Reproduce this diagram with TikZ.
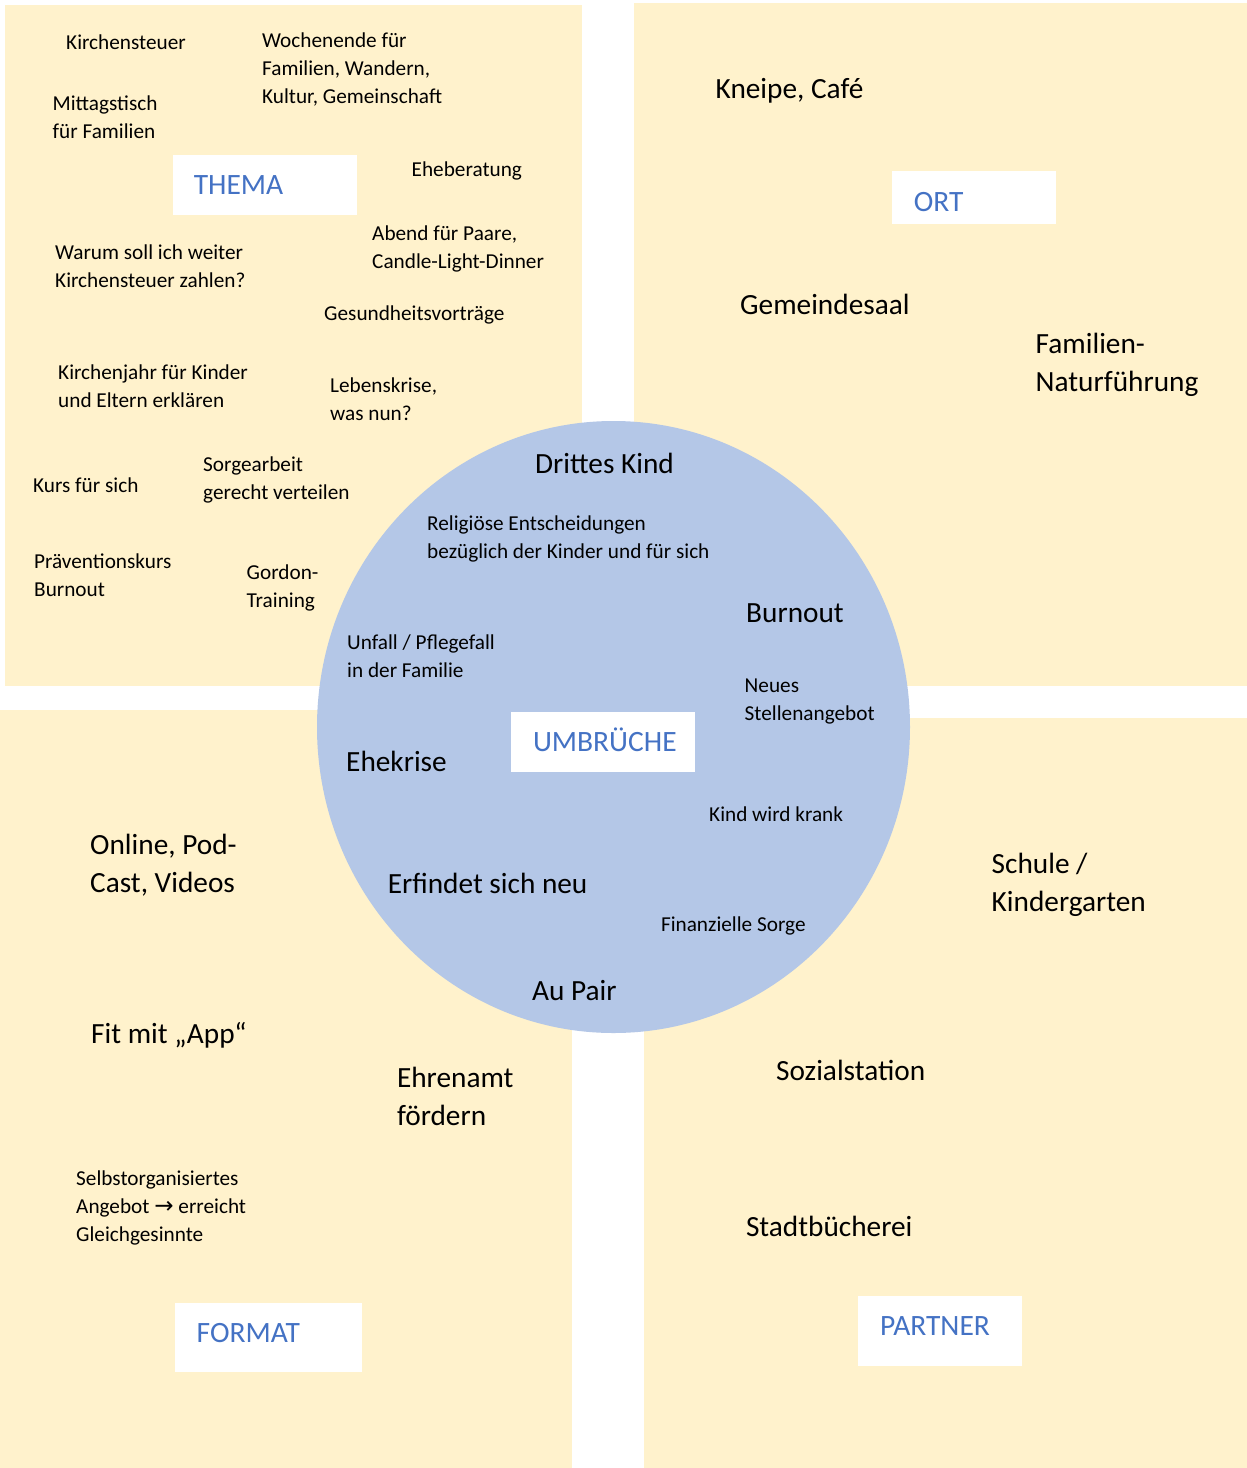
\documentclass[tikz,border=0pt]{standalone}
\usepackage{fontspec}
\setmainfont{Carlito}
\newfontfamily\arrowfont{DejaVu Sans}
\definecolor{quadfill}{HTML}{FFF2CC}
\definecolor{circfill}{HTML}{B4C7E7}
\definecolor{lblblue}{HTML}{4472C4}
\newcommand\mlines[1]{\begin{tabular}[t]{@{}l@{}}#1\end{tabular}}
\begin{document}
\begin{tikzpicture}[x=1pt,y=-1pt,
  small/.style={anchor=base west, inner sep=0pt, font=\fontsize{21.25}{28}\selectfont},
  big/.style={anchor=base west, inner sep=0pt, font=\fontsize{29.3}{38}\selectfont},
  lblbox/.style={fill=white, draw=none, inner sep=0pt},
  lbltext/.style={anchor=base west, inner sep=0pt, text=lblblue, font=\fontsize{29.5}{38}\selectfont}]
\useasboundingbox (0,0) rectangle (1247,1468);
\fill[white] (0,0) rectangle (1247,1468);
% quadrants
\fill[quadfill] (5,5) rectangle (582,686);
\fill[quadfill] (634,3) rectangle (1247,686);
\fill[quadfill] (0,710) rectangle (572,1468);
\fill[quadfill] (644,718) rectangle (1247,1468);
% circle
\fill[circfill] (613.5,727) ellipse [x radius=296.5pt, y radius=306pt];
% label boxes
\node[lblbox, minimum width=184pt, minimum height=60pt] (themabox) at (265,185) {};
\node[lbltext] (thema) at (193.6,194) {THEMA};
\node[lblbox, minimum width=164pt, minimum height=53pt] (ortbox) at (974,197.5) {};
\node[lbltext] (ort) at (913.6,211) {ORT};
\node[lblbox, minimum width=187pt, minimum height=69pt] (formatbox) at (268.5,1337.5) {};
\node[lbltext] (format) at (196.5,1342) {FORMAT};
\node[lblbox, minimum width=164pt, minimum height=70pt] (partnerbox) at (940,1331) {};
\node[lbltext] (partner) at (880,1335) {PARTNER};
\node[lblbox, minimum width=184pt, minimum height=60pt] (umbruchbox) at (603,742) {};
\node[lbltext] (umbruch) at (532.8,751.4) {UMBRÜCHE};
% THEMA texts
\node[small] (t1) at (66,49) {Kirchensteuer};
\node[small] (t2) at (262,47) {\mlines{Wochenende für\\Familien, Wandern,\\Kultur, Gemeinschaft}};
\node[small] (t3) at (52.5,110) {\mlines{Mittagstisch\\für Familien}};
\node[small] (t4) at (411.5,176) {Eheberatung};
\node[small] (t5) at (55,259.5) {\mlines{Warum soll ich weiter\\Kirchensteuer zahlen?}};
\node[small] (t6) at (372,240) {\mlines{Abend für Paare,\\Candle-Light-Dinner}};
\node[small] (t7) at (324,320) {Gesundheitsvorträge};
\node[small] (t8) at (58,379) {\mlines{Kirchenjahr für Kinder\\und Eltern erklären}};
\node[small] (t9) at (330,392) {\mlines{Lebenskrise,\\was nun?}};
\node[small] (t10) at (33,492) {Kurs für sich};
\node[small] (t11) at (203,471.5) {\mlines{Sorgearbeit\\gerecht verteilen}};
\node[small] (t12) at (34,568) {\mlines{Präventionskurs\\Burnout}};
\node[small] (t13) at (246.5,579) {\mlines{Gordon-\\Training}};
% ORT texts
\node[big] (o1) at (715.5,98) {Kneipe, Café};
\node[big] (o2) at (740,314.5) {Gemeindesaal};
\node[big] (o3) at (1035.5,353) {\mlines{Familien-\\Naturführung}};
% UMBRUECHE texts
\node[big] (u1) at (535,473) {Drittes Kind};
\node[small] (u2) at (427,530) {\mlines{Religiöse Entscheidungen\\bezüglich der Kinder und für sich}};
\node[big] (u3) at (746,622) {Burnout};
\node[small] (u4) at (347,649) {\mlines{Unfall / Pflegefall\\in der Familie}};
\node[small] (u5) at (744.5,692) {\mlines{Neues\\Stellenangebot}};
\node[big] (u6) at (346,771.5) {Ehekrise};
\node[small] (u7) at (709,821.7) {Kind wird krank};
\node[big] (u8) at (387.6,893) {Erfindet sich neu};
\node[small] (u9) at (660.8,931) {Finanzielle Sorge};
\node[big] (u10) at (532,1000) {Au Pair};
% FORMAT texts
\node[big] (f1) at (90,854) {\mlines{Online, Pod-\\Cast, Videos}};
\node[big] (f2) at (91,1043) {Fit mit „App“};
\node[big] (f3) at (396.8,1087) {\mlines{Ehrenamt\\fördern}};
\node[small] (f4) at (76,1185) {\mlines{Selbstorganisiertes\\Angebot {\arrowfont\fontsize{23}{28}\selectfont →} erreicht\\Gleichgesinnte}};
% PARTNER texts
\node[big] (p1) at (991.5,873.5) {\mlines{Schule /\\Kindergarten}};
\node[big] (p2) at (776,1080.5) {Sozialstation};
\node[big] (p3) at (745.8,1236.8) {Stadtbücherei};
\end{tikzpicture}
\end{document}
